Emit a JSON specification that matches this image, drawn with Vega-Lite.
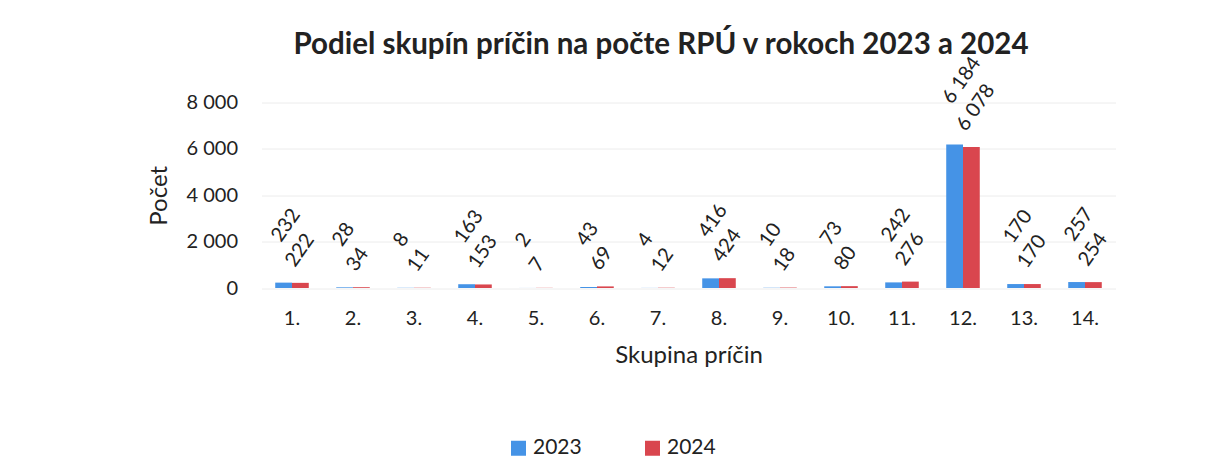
{
  "$schema": "https://vega.github.io/schema/vega-lite/v6.json",
  "width": 854,
  "height": 185.5,
  "autosize": {"type": "none"},
  "padding": {"left": 261.5, "top": 102.5, "right": 89.5, "bottom": 173},
  "background": "white",
  "config": {
    "font": "Lato",
    "view": {"stroke": null},
    "locale": {"number": {"decimal": ",", "thousands": " ", "grouping": [3], "currency": ["", " €"]}}
  },
  "title": {
    "text": "Podiel skupín príčin na počte RPÚ v rokoch 2023 a 2024",
    "fontSize": 29.5,
    "fontWeight": "bold",
    "color": "#222222",
    "dx": -27.5,
    "dy": 4,
    "offset": -3
  },
  "data": {
    "values": [
      {"skupina": "1.", "rok": "2023", "pocet": 232},
      {"skupina": "1.", "rok": "2024", "pocet": 222},
      {"skupina": "2.", "rok": "2023", "pocet": 28},
      {"skupina": "2.", "rok": "2024", "pocet": 34},
      {"skupina": "3.", "rok": "2023", "pocet": 8},
      {"skupina": "3.", "rok": "2024", "pocet": 11},
      {"skupina": "4.", "rok": "2023", "pocet": 163},
      {"skupina": "4.", "rok": "2024", "pocet": 153},
      {"skupina": "5.", "rok": "2023", "pocet": 2},
      {"skupina": "5.", "rok": "2024", "pocet": 7},
      {"skupina": "6.", "rok": "2023", "pocet": 43},
      {"skupina": "6.", "rok": "2024", "pocet": 69},
      {"skupina": "7.", "rok": "2023", "pocet": 4},
      {"skupina": "7.", "rok": "2024", "pocet": 12},
      {"skupina": "8.", "rok": "2023", "pocet": 416},
      {"skupina": "8.", "rok": "2024", "pocet": 424},
      {"skupina": "9.", "rok": "2023", "pocet": 10},
      {"skupina": "9.", "rok": "2024", "pocet": 18},
      {"skupina": "10.", "rok": "2023", "pocet": 73},
      {"skupina": "10.", "rok": "2024", "pocet": 80},
      {"skupina": "11.", "rok": "2023", "pocet": 242},
      {"skupina": "11.", "rok": "2024", "pocet": 276},
      {"skupina": "12.", "rok": "2023", "pocet": 6184},
      {"skupina": "12.", "rok": "2024", "pocet": 6078},
      {"skupina": "13.", "rok": "2023", "pocet": 170},
      {"skupina": "13.", "rok": "2024", "pocet": 170},
      {"skupina": "14.", "rok": "2023", "pocet": 257},
      {"skupina": "14.", "rok": "2024", "pocet": 254}
    ]
  },
  "encoding": {
    "x": {
      "field": "skupina",
      "type": "nominal",
      "sort": null,
      "scale": {"paddingInner": 0.45, "paddingOuter": 0.225},
      "axis": {
        "title": "Skupina príčin",
        "labelAngle": 0,
        "labelFontSize": 20,
        "labelPadding": 20,
        "labelColor": "#222222",
        "titleFontSize": 24,
        "titleFontWeight": "normal",
        "titleColor": "#222222",
        "titlePadding": 15,
        "domain": false,
        "ticks": false
      }
    },
    "xOffset": {"field": "rok", "type": "nominal"},
    "y": {
      "field": "pocet",
      "type": "quantitative",
      "scale": {"domain": [0, 8000]},
      "axis": {
        "title": "Počet",
        "values": [0, 2000, 4000, 6000, 8000],
        "format": ",d",
        "labelFontSize": 20,
        "labelColor": "#222222",
        "labelPadding": 24,
        "titleFontSize": 24,
        "titleFontWeight": "normal",
        "titleColor": "#222222",
        "titlePadding": 14,
        "domain": false,
        "ticks": false,
        "gridColor": "#ececec"
      }
    }
  },
  "layer": [
    {
      "mark": {"type": "bar"},
      "encoding": {
        "color": {
          "field": "rok",
          "type": "nominal",
          "scale": {"range": ["#4593e6", "#d9464e"]},
          "legend": {
            "orient": "none",
            "legendX": 243.5,
            "legendY": 332,
            "direction": "horizontal",
            "title": null,
            "symbolType": "square",
            "symbolSize": 225,
            "symbolStrokeWidth": 0,
            "labelFontSize": 21,
            "labelColor": "#222222",
            "labelLimit": 300,
            "columnPadding": 60,
            "padding": 3
          }
        }
      }
    },
    {
      "transform": [{"filter": "datum.rok == '2023'"}],
      "mark": {"type": "text", "angle": -55, "align": "left", "baseline": "alphabetic", "dx": 31, "dy": -25, "fontSize": 20, "color": "#222222"},
      "encoding": {"text": {"field": "pocet", "type": "quantitative", "format": ",d"}}
    },
    {
      "transform": [{"filter": "datum.rok == '2024'"}],
      "mark": {"type": "text", "angle": -55, "align": "left", "baseline": "alphabetic", "dx": 9, "dy": -13, "fontSize": 20, "color": "#222222"},
      "encoding": {"text": {"field": "pocet", "type": "quantitative", "format": ",d"}}
    }
  ]
}
